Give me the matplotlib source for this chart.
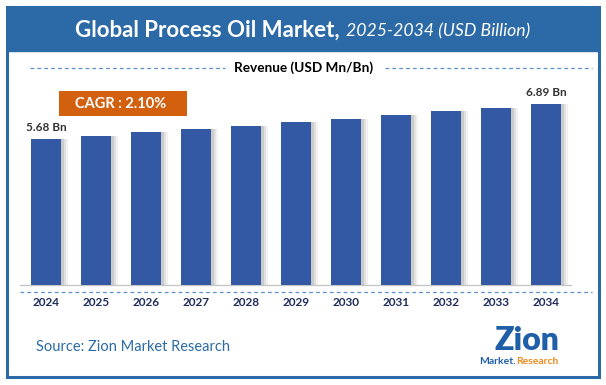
import matplotlib.pyplot as plt
from matplotlib.patches import Rectangle

plt.rcParams['font.family'] = ['Lato', 'DejaVu Sans']

years = ['2024', '2025', '2026', '2027', '2028', '2029', '2030', '2031', '2032', '2033', '2034']
revenue = [5.68, 5.79, 5.91, 6.03, 6.14, 6.26, 6.38, 6.51, 6.63, 6.76, 6.89]
first_label = '5.68 Bn'
last_label = '6.89 Bn'
cagr_text = 'CAGR : 2.10%'

W, H = 606, 385
fig = plt.figure(figsize=(W / 100, H / 100), dpi=100)
fig.patch.set_facecolor('white')

# overlay axes in pixel coords (y down)
bg = fig.add_axes([0, 0, 1, 1])
bg.set_xlim(0, W)
bg.set_ylim(H, 0)
bg.axis('off')

blue = '#2c6aa7'
# frame and title band
bg.add_patch(Rectangle((7, 7), 592, 370, fill=False, edgecolor=blue, lw=2.2))
bg.add_patch(Rectangle((7, 7), 592, 44, facecolor=blue, edgecolor=blue, lw=1))
bg.text(340, 30, 'Global Process Oil Market,', color='white', fontsize=16,
        fontweight='bold', ha='right', va='center')
bg.text(346, 31, '2025-2034 (USD Billion)', color='white', fontsize=12.7,
        style='italic', ha='left', va='center')

# revenue header with dashed rules
bg.text(304, 68, 'Revenue (USD Mn/Bn)', fontsize=9.8, fontweight='bold',
        color='black', ha='center', va='center')
bg.plot([30, 225], [68, 68], ls=(0, (3, 2.5)), color='#5b8fd0', lw=0.9)
bg.plot([385, 592], [68, 68], ls=(0, (3, 2.5)), color='#5b8fd0', lw=0.9)

# CAGR box
bg.add_patch(Rectangle((59, 91), 128, 25, facecolor='#d2600f', edgecolor='none'))
bg.text(121, 104, cagr_text, color='white', fontsize=10.5, fontweight='bold',
        ha='center', va='center')

# baseline rules
bg.plot([20, 571], [285, 285], color='#c8c8c8', lw=1)
bg.plot([20, 592], [292, 292], ls=(0, (3, 2.5)), color='#5b8fd0', lw=0.9)

# source and logo
bg.text(36, 347, 'Source: Zion Market Research', color='#2c6aa7', fontsize=10.5,
        ha='left', va='center')
bg.text(527, 340, 'Zion', color='#1f5fa8', fontsize=23, fontweight='heavy',
        ha='center', va='center')
bg.text(516, 362, 'Market.', color='#1f5fa8', fontsize=7.5, fontweight='bold',
        ha='right', va='center')
bg.text(516, 362, 'Research', color='#f08a1c', fontsize=7.5, fontweight='bold',
        ha='left', va='center')

# bar chart axes
ax = fig.add_axes([21 / W, 1 - 285 / H, 550 / W, 205 / H])
ax.set_xlim(-0.5, 10.5)
ax.set_ylim(0.63, 0.63 + 205 / 28.93)
ax.axis('off')
ax.patch.set_alpha(0)

x = list(range(len(years)))
for off, a in [(0.14, 0.10), (0.10, 0.15), (0.06, 0.22)]:
    ax.bar([i + off for i in x], revenue, width=0.6, color='#808080', alpha=a,
           edgecolor='none')
ax.bar(x, revenue, width=0.6, color='#3358a4', edgecolor='none')

ax.text(x[0], revenue[0] + 0.22, first_label, ha='center', va='bottom',
        fontsize=8.5, color='#333333', fontweight='bold')
ax.text(x[-1], revenue[-1] + 0.22, last_label, ha='center', va='bottom',
        fontsize=8.5, color='#333333', fontweight='bold')

for i, yr in enumerate(years):
    bg.text(46 + 50 * i, 303, yr, ha='center', va='center', fontsize=8.5,
            fontweight='bold', color='#1f2d5c')

fig.savefig('out.png', dpi=100)
